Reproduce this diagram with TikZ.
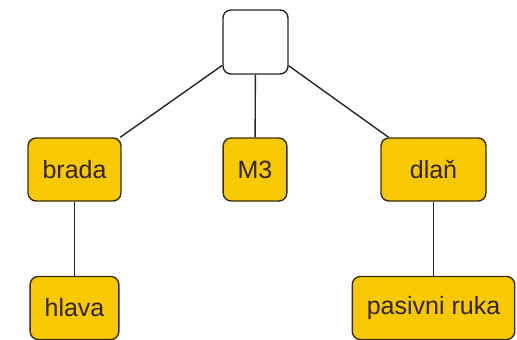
\documentclass[tikz,border=0pt]{standalone}
\usepackage{fontspec}
\setmainfont{Liberation Sans}
\usepackage{xcolor}
\usepackage{tikz}
\usetikzlibrary{positioning}

\definecolor{boxfill}{RGB}{248,200,0}
\definecolor{boxline}{RGB}{58,46,10}
\definecolor{boxtext}{RGB}{50,36,5}

\tikzset{
  leaf/.style={draw=boxline,fill=boxfill,line width=1.4pt,rounded corners=8pt,
    minimum height=63pt,inner xsep=14.5pt,text=boxtext,
    font=\fontsize{25}{30}\selectfont},
  rootbox/.style={draw=black!85,fill=white,line width=1.4pt,rounded corners=8pt,
    minimum width=65pt,minimum height=64pt},
  link/.style={draw=black!85,line width=1.4pt}
}

\begin{document}
\begin{tikzpicture}
  \useasboundingbox (0,0) rectangle (517pt,-340pt);
  \node[rootbox] (root) at (255.5pt,-42pt) {};
  \node[leaf] (brada) at (74.5pt,-169.5pt) {brada};
  \node[leaf] (m3) at (255pt,-169.5pt) {M3};
  \node[leaf,minimum width=105pt] (dlan) at (433.5pt,-169.5pt) {dlaň};
  \node[leaf] (hlava) at (74.5pt,-308pt) {hlava};
  \node[leaf] (ruka) at (433.5pt,-308pt) {pasivni ruka};
  \draw[link] (root) -- (brada);
  \draw[link] (root) -- (m3);
  \draw[link] (root) -- (dlan);
  \draw[link] (brada) -- (hlava);
  \draw[link] (dlan) -- (ruka);
\end{tikzpicture}
\end{document}
